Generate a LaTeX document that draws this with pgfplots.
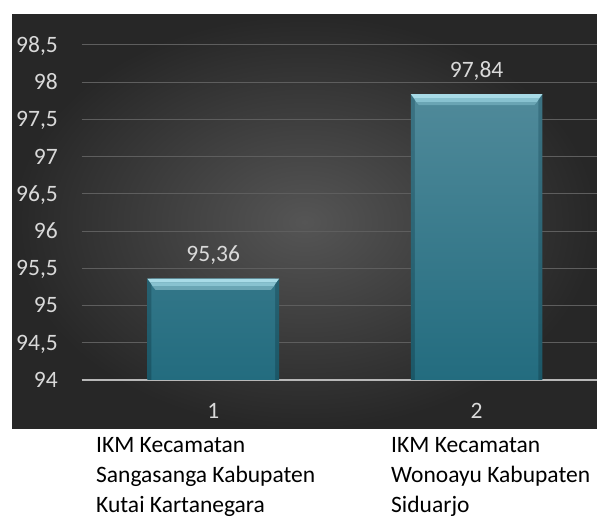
\documentclass[border=0pt]{standalone}
\usepackage{pgfplots}
\pgfplotsset{compat=1.18}
\usepackage{fontspec}
\setmainfont{Carlito}
\definecolor{panelin}{HTML}{555555}
\definecolor{panelout}{HTML}{272727}
\definecolor{gridc}{HTML}{5E5E5E}
\definecolor{lbl}{HTML}{D9D9D9}
\definecolor{bartop}{HTML}{508A9A}
\definecolor{barbot}{HTML}{236C7F}
\definecolor{edgetop}{HTML}{3C7383}
\definecolor{edgebot}{HTML}{1B5767}
\definecolor{bevA}{HTML}{A8DBE7}
\definecolor{bevB}{HTML}{88C2D0}
\definecolor{bevC}{HTML}{6AA5B4}
\pgfdeclareplotmark{bevel}{%
  \pgfsetfillcolor{bevA}%
  \pgfpathmoveto{\pgfqpoint{-65.8bp}{0bp}}%
  \pgfpathlineto{\pgfqpoint{65.8bp}{0bp}}%
  \pgfpathlineto{\pgfqpoint{62.8bp}{-4bp}}%
  \pgfpathlineto{\pgfqpoint{-62.8bp}{-4bp}}%
  \pgfpathclose\pgfusepath{fill}%
  \pgfsetfillcolor{bevB}%
  \pgfpathmoveto{\pgfqpoint{-62.8bp}{-4bp}}%
  \pgfpathlineto{\pgfqpoint{62.8bp}{-4bp}}%
  \pgfpathlineto{\pgfqpoint{60.3bp}{-8bp}}%
  \pgfpathlineto{\pgfqpoint{-60.3bp}{-8bp}}%
  \pgfpathclose\pgfusepath{fill}%
  \pgfsetfillcolor{bevC}%
  \pgfpathmoveto{\pgfqpoint{-60.3bp}{-8bp}}%
  \pgfpathlineto{\pgfqpoint{60.3bp}{-8bp}}%
  \pgfpathlineto{\pgfqpoint{57.8bp}{-11bp}}%
  \pgfpathlineto{\pgfqpoint{-57.8bp}{-11bp}}%
  \pgfpathclose\pgfusepath{fill}%
}
\begin{document}
\begin{tikzpicture}[x=1bp,y=1bp]
\path[use as bounding box] (0,0) rectangle (597,523);
\shade[inner color=panelin, outer color=panelout] (12,94) rectangle (597,508);
\begin{axis}[
  at={(81.5bp,143bp)}, anchor=south west,
  scale only axis, width=515.5bp, height=335bp,
  xmin=-0.5, xmax=1.457, ymin=94, ymax=98.5,
  y coord trafo/.code={\pgfmathparse{#1-94}},
  y coord inv trafo/.code={\pgfmathparse{#1+94}},
  axis x line*=bottom, axis y line*=left,
  x axis line style={draw=lbl!85!black, line width=1.6bp},
  y axis line style={draw=none},
  major tick length=0pt,
  xtick={0,1}, xticklabels={1,2},
  ytick={94,94.5,95,95.5,96,96.5,97,97.5,98,98.5},
  yticklabels={94,{94,5},95,{95,5},96,{96,5},97,{97,5},98,{98,5}},
  ymajorgrids, grid style={draw=gridc, line width=1bp},
  tick label style={text=lbl, font=\fontsize{23.5bp}{28bp}\selectfont, inner sep=0pt},
  yticklabel style={anchor=base east, xshift=-23.5bp, yshift=-7.4bp},
  xticklabel style={anchor=base, yshift=-39bp},
  clip=false,
]
\addplot[ybar, bar width=0.5, draw=none, top color=edgetop, bottom color=edgebot,
  nodes near coords, point meta=explicit symbolic,
  nodes near coords style={text=lbl, font=\fontsize{23.5bp}{28bp}\selectfont, anchor=base, inner sep=0pt, yshift=17bp}]
  coordinates {(0,95.36) [95,36] (1,97.84) [97,84]};
\addplot[ybar, bar width=0.4696, draw=none, top color=bartop, bottom color=barbot]
  coordinates {(0,95.36) (1,97.84)};
\addplot[only marks, mark=bevel]
  coordinates {(0,95.36) (1,97.84)};
\end{axis}
\begin{scope}[font=\fontsize{23.5bp}{28bp}\selectfont]
\node[anchor=base west, inner sep=0pt] at (96,70) {IKM Kecamatan};
\node[anchor=base west, inner sep=0pt] at (96,40) {Sangasanga Kabupaten};
\node[anchor=base west, inner sep=0pt] at (96,10) {Kutai Kartanegara};
\node[anchor=base west, inner sep=0pt] at (391,70) {IKM Kecamatan};
\node[anchor=base west, inner sep=0pt] at (391,40) {Wonoayu Kabupaten};
\node[anchor=base west, inner sep=0pt] at (391,10) {Siduarjo};
\end{scope}
\end{tikzpicture}
\end{document}
